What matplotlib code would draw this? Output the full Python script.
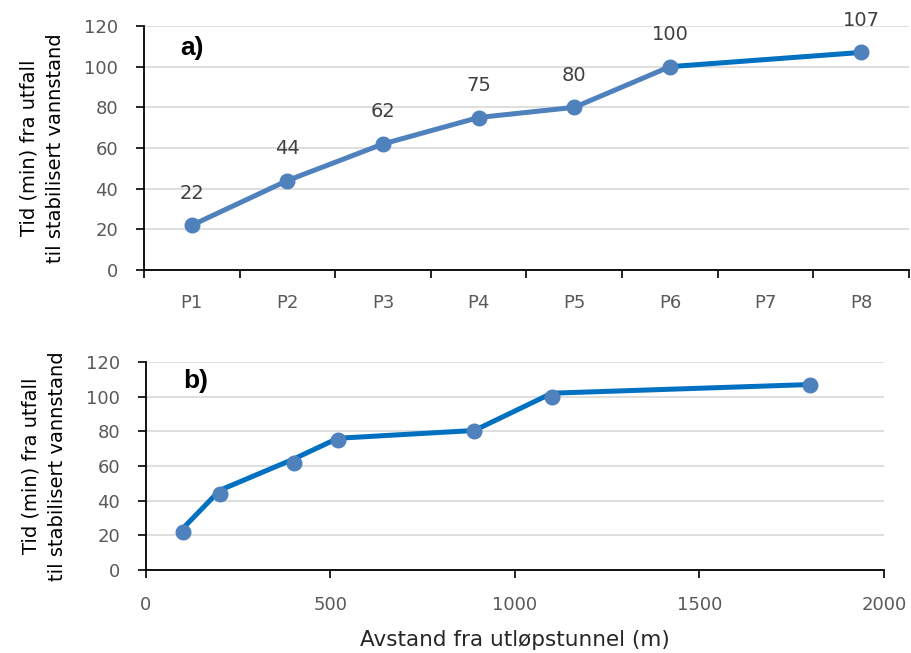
import matplotlib
matplotlib.use('Agg')
import matplotlib.pyplot as plt

# panel a) - per measuring point
points = ['P1', 'P2', 'P3', 'P4', 'P5', 'P6', 'P7', 'P8']
minutes_a = [22, 44, 62, 75, 80, 100, None, 107]

# panel b) - distance from outlet tunnel
distance = [100, 200, 400, 520, 890, 1100, 1800]
minutes_b = [22, 44, 62, 75, 80, 100, 107]
line_b = [24, 46, 64, 76, 80.5, 102, 107]  # line series sits a bit above the markers

c_light = '#4F81BD'
c_dark = '#0070C0'
ylabel = 'Tid (min) fra utfall\ntil stabilisert vannstand'

fig = plt.figure(figsize=(9.12, 6.53), dpi=100)
ax1 = fig.add_axes([144/912, 1 - 270/653, 765/912, 244/653])
ax2 = fig.add_axes([146/912, 1 - 570/653, 738/912, 208/653])


def style(ax):
    for s in ['top', 'right']:
        ax.spines[s].set_visible(False)
    for s in ['left', 'bottom']:
        ax.spines[s].set_color('black')
        ax.spines[s].set_linewidth(1.3)
    ax.set_ylim(0, 120)
    ax.set_yticks(range(0, 121, 20))
    ax.grid(axis='y', color='#D9D9D9', linewidth=1.2)
    ax.set_axisbelow(True)
    ax.tick_params(axis='y', direction='out', length=5.5, width=1.2, colors='black',
                   labelcolor='#595959', labelsize=13, pad=13)
    ax.set_ylabel(ylabel, fontsize=14, color='black', linespacing=1.5, labelpad=14)


# --- a) ---
idx = list(range(len(points)))
xa = [i for i, v in zip(idx, minutes_a) if v is not None]
ya = [v for v in minutes_a if v is not None]
ax1.plot(xa[:6], ya[:6], color=c_light, lw=3.6, solid_capstyle='round', zorder=3)
ax1.plot(xa[5:], ya[5:], color=c_dark, lw=3.6, solid_capstyle='round', zorder=3)
ax1.plot(xa, ya, 'o', color=c_light, ms=10.5, zorder=4)
for x, y in zip(xa, ya):
    ax1.annotate(str(y), (x, y), xytext=(0, 23), textcoords='offset points',
                 ha='center', va='center', fontsize=14, color='#404040')
ax1.set_xlim(-0.5, len(points) - 0.5)
style(ax1)
ax1.set_xticks([i - 0.5 for i in range(len(points) + 1)])
ax1.set_xticklabels([])
ax1.set_xticks(idx, minor=True)
ax1.set_xticklabels(points, minor=True)
ax1.tick_params(axis='x', which='major', direction='out', length=6, width=1.2, colors='black')
ax1.tick_params(axis='x', which='minor', length=0, labelcolor='#595959', labelsize=13, pad=17)
ax1.text(0.048, 0.91, 'a)', transform=ax1.transAxes, fontsize=19, fontweight='bold',
         family='Liberation Sans', va='center')

# --- b) ---
ax2.plot(distance, line_b, color=c_dark, lw=3.6, solid_capstyle='round', zorder=3)
ax2.plot(distance, minutes_b, 'o', color=c_light, ms=10.5, zorder=4)
ax2.set_xlim(0, 2000)
style(ax2)
ax2.set_xticks(range(0, 2001, 500))
ax2.tick_params(axis='x', direction='out', length=6, width=1.2, colors='black',
                labelcolor='#595959', labelsize=13, pad=13)
ax2.set_xlabel('Avstand fra utløpstunnel (m)', fontsize=15.5, color='#262626', labelpad=11)
ax2.text(0.05, 0.91, 'b)', transform=ax2.transAxes, fontsize=19, fontweight='bold',
         family='Liberation Sans', va='center')

fig.savefig('out.png', dpi=100)
